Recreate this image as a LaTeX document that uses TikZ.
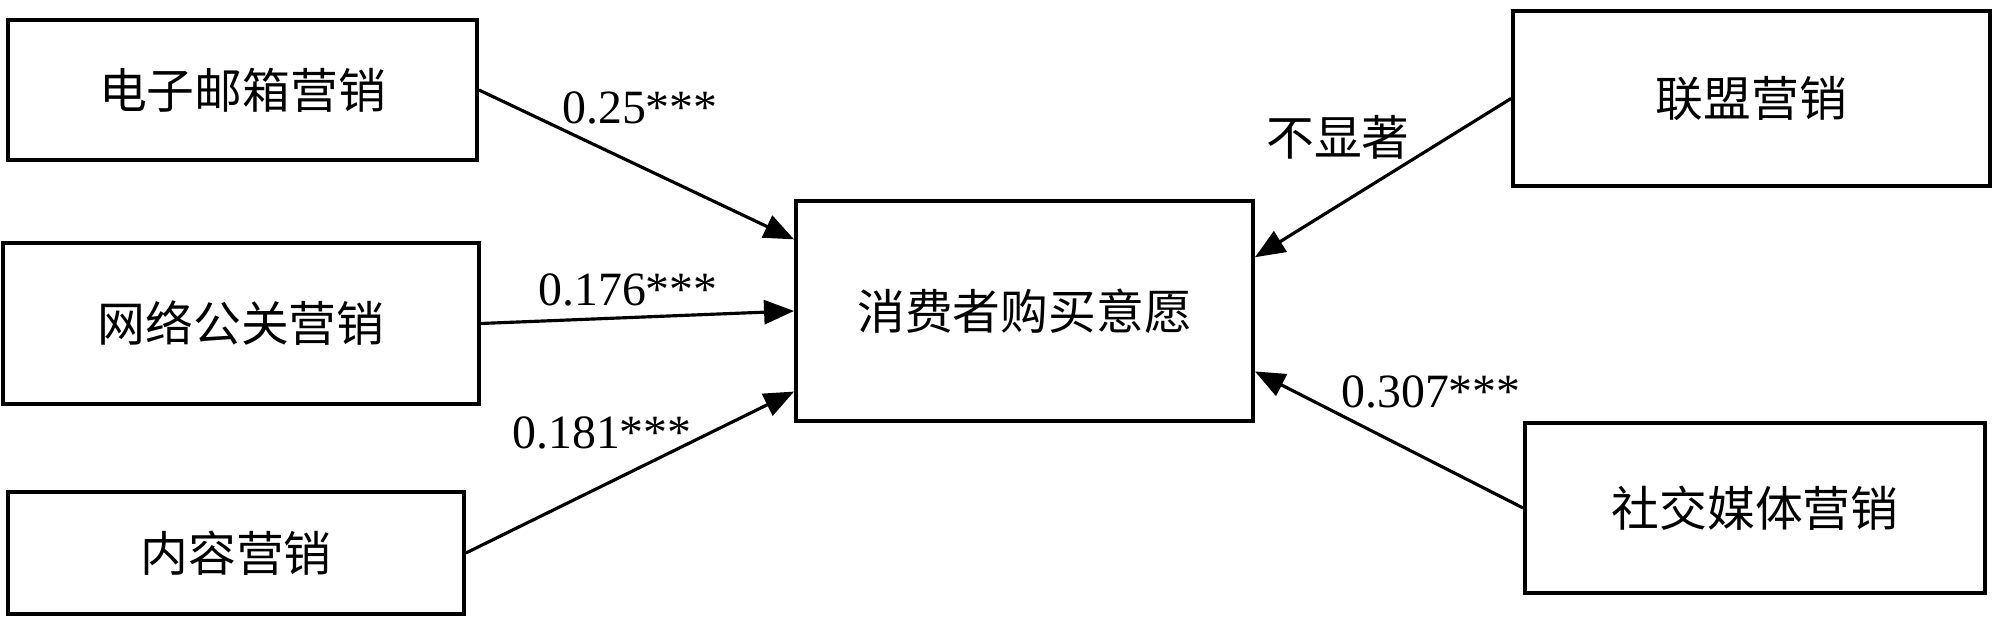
\documentclass[tikz,border=0pt]{standalone}
\usepackage{fontspec}
\setmainfont{Liberation Serif}
\newfontfamily\cjk{Noto Sans CJK SC}
\usepackage{tikz}
\usetikzlibrary{arrows.meta,calc,positioning}
\tikzset{
  box/.style={rectangle,draw=black,line width=1.1pt,fill=white,align=center,
    inner sep=0pt,font=\fontsize{13.6}{16}\selectfont\cjk},
  coeflab/.style={font=\fontsize{13.6}{16}\selectfont,inner sep=0pt},
  arr/.style={-{Triangle[length=0.3cm,width=0.24cm]},line width=0.9pt}
}
\begin{document}
\begin{tikzpicture}
  \useasboundingbox (0,0) rectangle (20,6.27);
  % predictors on the left
  \node[box,minimum width=4.69cm,minimum height=1.40cm] (email)   at (2.425,5.37)  {电子邮箱营销};
  \node[box,minimum width=4.76cm,minimum height=1.61cm] (pr)      at (2.41,3.035)  {网络公关营销};
  \node[box,minimum width=4.56cm,minimum height=1.22cm] (content) at (2.36,0.74)   {内容营销};
  % outcome
  \node[box,minimum width=4.57cm,minimum height=2.20cm] (intent)  at (10.245,3.16) {消费者购买意愿};
  % predictors on the right
  \node[box,minimum width=4.77cm,minimum height=1.75cm] (alliance) at (17.515,5.285) {联盟营销};
  \node[box,minimum width=4.60cm,minimum height=1.70cm] (social)   at (17.55,1.19)   {社交媒体营销};
  % paths
  \draw[arr] (email.east)   -- ($(intent.north west)!0.18!(intent.south west)$);
  \draw[arr] (pr.east)      -- (intent.west);
  \draw[arr] (content.east) -- ($(intent.north west)!0.86!(intent.south west)$);
  \draw[arr] (alliance.west) -- ($(intent.north east)!0.26!(intent.south east)$);
  \draw[arr] (social.west)   -- ($(intent.north east)!0.77!(intent.south east)$);
  % coefficients
  \node[coeflab] (c1) at (6.40,5.19) {0.25***};
  \node[coeflab] (c2) at (6.28,3.37) {0.176***};
  \node[coeflab] (c3) at (6.02,1.94) {0.181***};
  \node[coeflab,font=\fontsize{13.6}{16}\selectfont\cjk] (c4) at (13.38,4.90) {不显著};
  \node[coeflab] (c5) at (14.31,2.35) {0.307***};
\end{tikzpicture}
\end{document}
